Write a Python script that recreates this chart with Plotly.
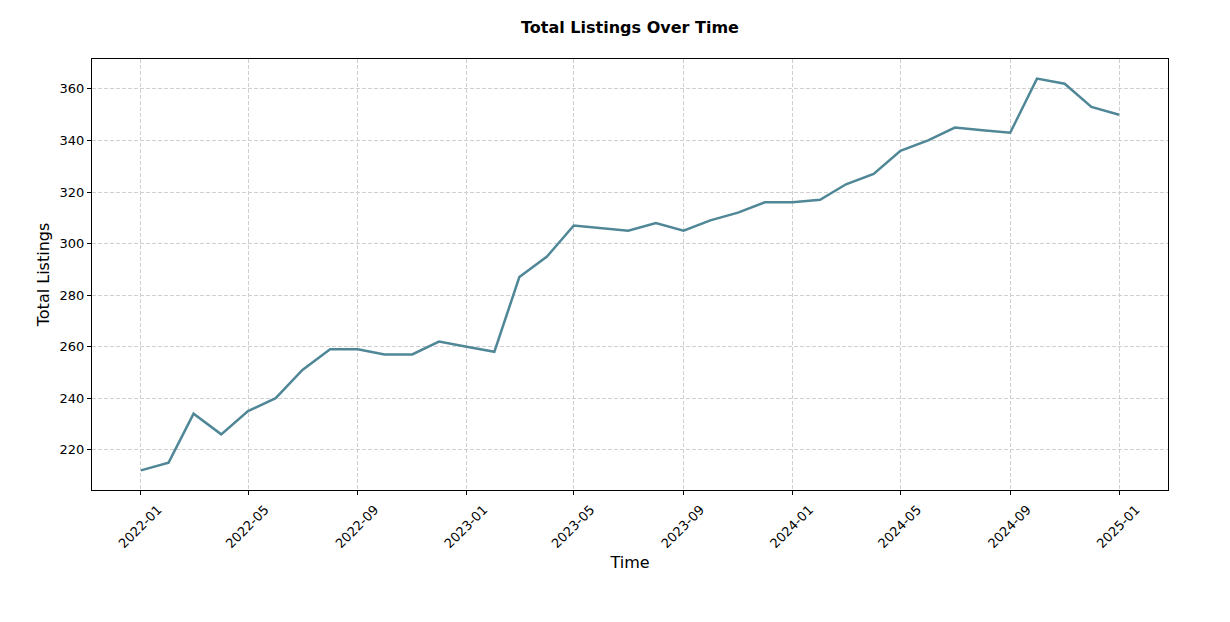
import pandas as pd
import plotly.graph_objects as go

months = pd.date_range("2022-01-01", "2025-01-01", freq="MS")
total_listings = [212, 215, 234, 226, 235, 240, 251, 259, 259, 257, 257, 262,
                  260, 258, 287, 295, 307, 306, 305, 308, 305, 309, 312, 316,
                  316, 317, 323, 327, 336, 340, 345, 344, 343, 364, 362, 353,
                  350]
tick_dates = pd.date_range("2022-01-01", "2025-01-01", freq="4MS")
tick_labels = [d.strftime("%Y-%m") for d in tick_dates]

fig = go.Figure()
fig.add_trace(go.Scatter(x=months, y=total_listings, mode="lines",
                         line=dict(color="#4f8796", width=2.5),
                         showlegend=False))

pad = pd.Timedelta(days=54.8)
font = "DejaVu Sans, sans-serif"
fig.update_layout(
    width=1230, height=622,
    margin=dict(l=84, r=70, t=51, b=140),
    paper_bgcolor="white", plot_bgcolor="white",
    font=dict(family=font, color="black"),
    title=dict(text="<b>Total Listings Over Time</b>", x=622 / 1230, xanchor="center",
               y=1 - 19/622, yanchor="middle", font=dict(size=16, family=font)),
)
fig.update_xaxes(
    range=[months[0] - pad, months[-1] + pad],
    tickvals=tick_dates, ticktext=tick_labels, tickangle=-45,
    ticklabelshift=17, ticklabelstandoff=2,
    tickfont=dict(size=13), ticks="outside", ticklen=4, tickcolor="black",
    showline=True, linecolor="black", linewidth=1, mirror=True,
    showgrid=True, gridcolor="#d0d0d0", griddash="4px,2px", gridwidth=1,
    title=dict(text="Time", font=dict(size=16), standoff=6),
    zeroline=False,
)
fig.update_yaxes(
    range=[204.4, 371.6],
    tickvals=list(range(220, 361, 20)),
    tickfont=dict(size=13), ticks="outside", ticklen=4, tickcolor="black",
    showline=True, linecolor="black", linewidth=1, mirror=True,
    showgrid=True, gridcolor="#d0d0d0", griddash="4px,2px", gridwidth=1,
    title=dict(text="Total Listings", font=dict(size=16), standoff=5),
    zeroline=False,
)
fig.write_html("out.html")
